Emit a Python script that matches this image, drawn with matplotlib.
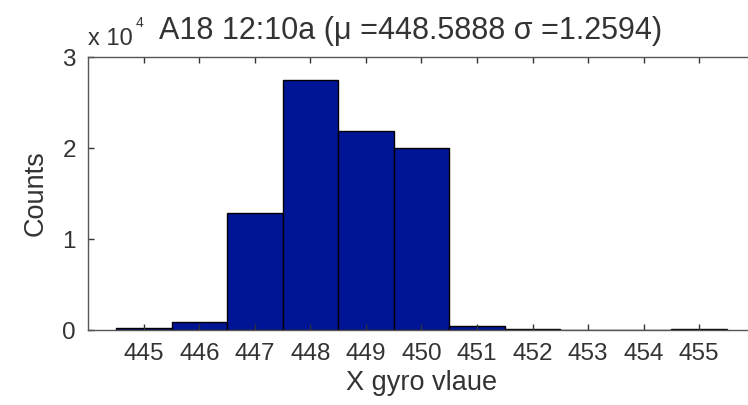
import matplotlib
matplotlib.use("Agg")
import matplotlib.pyplot as plt
from matplotlib.ticker import FuncFormatter

# gyro X readings, histogram counts per integer bin
bins = [445, 446, 447, 448, 449, 450, 451, 452, 453, 454, 455]
counts = [250, 900, 12900, 27500, 21900, 20000, 450, 150, 0, 0, 150]
title = "A18 12:10a (\u03bc =448.5888 \u03c3 =1.2594)"

plt.rcParams['font.family'] = ['Liberation Sans', 'DejaVu Sans']

fig = plt.figure(figsize=(7.48, 4.05), dpi=100)
ax = fig.add_axes([0.118, 0.185, 0.891, 0.674])

ax.bar(bins, counts, width=1.0, color='#001496', edgecolor='black', linewidth=1.0)

ax.set_xlim(444, 456)
ax.set_ylim(0, 30000)
ax.set_xticks(bins)
ax.set_yticks([0, 10000, 20000, 30000])
ax.yaxis.set_major_formatter(FuncFormatter(lambda v, p: '%d' % round(v / 1e4)))

ax.tick_params(direction='in', length=4, width=1, top=True, right=True,
               labelsize=17.5, colors='#333333', pad=9)
for s in ax.spines.values():
    s.set_color('#555555')
    s.set_linewidth(1.0)

ax.set_xlabel('X gyro vlaue', fontsize=19.5, color='#333333', labelpad=4)
ax.set_ylabel('Counts', fontsize=19.5, color='#333333', labelpad=10)

# exponent above the y axis and the title
fig.text(0.117, 0.889, 'x 10', fontsize=17, color='#333333', ha='left', va='baseline')
fig.text(0.181, 0.933, '4', fontsize=10, color='#333333', ha='left', va='baseline')
fig.text(0.549, 0.903, title, fontsize=22, color='#333333', ha='center', va='baseline')

fig.savefig('out.png', dpi=100)
